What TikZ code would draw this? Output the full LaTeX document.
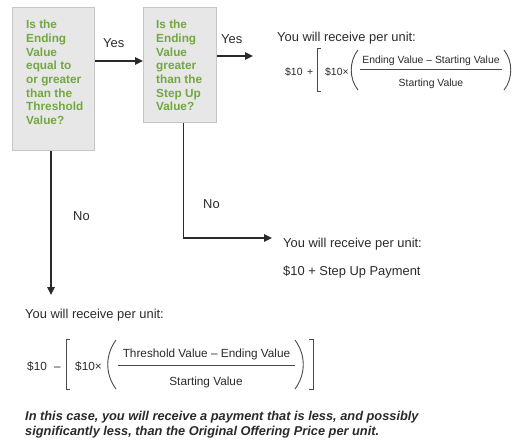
\documentclass[tikz,border=0pt]{standalone}
\usepackage{fontspec}
\setmainfont{Liberation Sans}
\usetikzlibrary{arrows.meta}
\definecolor{qgreen}{HTML}{72A83F}
\definecolor{boxfill}{HTML}{E7E7E7}
\definecolor{boxline}{HTML}{C6C6C6}
\definecolor{ink}{HTML}{2A2A2A}
\begin{document}
\begin{tikzpicture}[x=1pt,y=-1pt,
  qbox/.style={draw=boxline, fill=boxfill, line width=1pt, inner sep=0pt, anchor=north west},
  qtext/.style={text=qgreen, font=\fontsize{11.8}{13.7}\selectfont\bfseries, align=left, anchor=north west, inner sep=0pt},
  lbl/.style={text=ink, font=\fontsize{12.9}{15}\selectfont, anchor=base west, inner sep=0pt},
  fa/.style={text=ink, font=\fontsize{10.4}{12}\selectfont, anchor=base west, inner sep=0pt},
  fb/.style={text=ink, font=\fontsize{11.8}{14}\selectfont, anchor=base west, inner sep=0pt},
  note/.style={text=ink, font=\fontsize{12.8}{15}\selectfont\bfseries\itshape, anchor=base west, inner sep=0pt},
  arr/.style={draw=ink, line width=1.3pt, -{Triangle[length=8pt,width=7.5pt]}},
  delim/.style={draw=ink!85, line width=0.9pt}
]
\useasboundingbox (0,0) rectangle (512,440);
% question boxes
\node[qbox, minimum width=82pt, minimum height=143pt] (box1) at (12,7) {};
\node[qtext] (q1) at (26,20) {Is the\\Ending\\Value\\equal to\\or greater\\than the\\Threshold\\Value?};
\node[qbox, minimum width=73pt, minimum height=115pt] (box2) at (143,7) {};
\node[qtext] (q2) at (156,20) {Is the\\Ending\\Value\\greater\\than the\\Step Up\\Value?};
% connectors
\coordinate (t2) at (253,56);
\coordinate (t3) at (51,295);
\coordinate (t4) at (272,238);
\draw[arr] ([yshift=-54pt]box1.north east) -- ([yshift=-54pt]box2.north west);
\draw[arr] ([yshift=-49pt]box2.north east) -- (t2);
\draw[arr] (box1.south -| t3) -- (t3);
\draw[arr] ([xshift=3.5pt]box2.south) |- (t4);
% labels
\node[lbl] (yes1) at (103,47) {Yes};
\node[lbl] (yes2) at (221,43) {Yes};
\node[lbl] (no1) at (73,220) {No};
\node[lbl] (no2) at (203,208) {No};
% top right result
\node[lbl] (r1) at (277,41) {You will receive per unit:};
\node[fa] (r1a) at (285,75) {\$10 \,+};
\draw[delim] (321,48) -- (317,48) -- (317,91) -- (321,91);
\node[fa] (r1b) at (325,75) {\$10×};
\draw[delim] (358,50) .. controls (349,61) and (349,79) .. (358,90);
\node[fa, anchor=base] (r1n) at (431,63) {Ending Value – Starting Value};
\draw[delim] (360,69) -- (502,69);
\node[fa, anchor=base] (r1d) at (431,86) {Starting Value};
\draw[delim] (504,50) .. controls (513,61) and (513,79) .. (504,90);
% middle right result
\node[lbl] (r2) at (283,247) {You will receive per unit:};
\node[lbl] (r2a) at (283,275) {\$10 + Step Up Payment};
% bottom result
\node[lbl] (r3) at (25,318) {You will receive per unit:};
\node[fb] (r3a) at (27,370) {\$10};
\node[fb] (r3m) at (54,370) {–};
\draw[delim] (70,339) -- (66,339) -- (66,389) -- (70,389);
\node[fb] (r3b) at (75,370) {\$10×};
\draw[delim] (116,340) .. controls (105,355) and (105,374) .. (116,389);
\node[fb, anchor=base] (r3n) at (206.5,357) {Threshold Value – Ending Value};
\draw[delim] (118,365) -- (295,365);
\node[fb, anchor=base] (r3d) at (206,385) {Starting Value};
\draw[delim] (295,340) .. controls (306,355) and (306,374) .. (295,389);
\draw[delim] (309,339) -- (313,339) -- (313,389) -- (309,389);
\node[note] (n1) at (25,420) {In this case, you will receive a payment that is less, and possibly};
\node[note] (n2) at (25,435) {significantly less, than the Original Offering Price per unit.};
\end{tikzpicture}
\end{document}
